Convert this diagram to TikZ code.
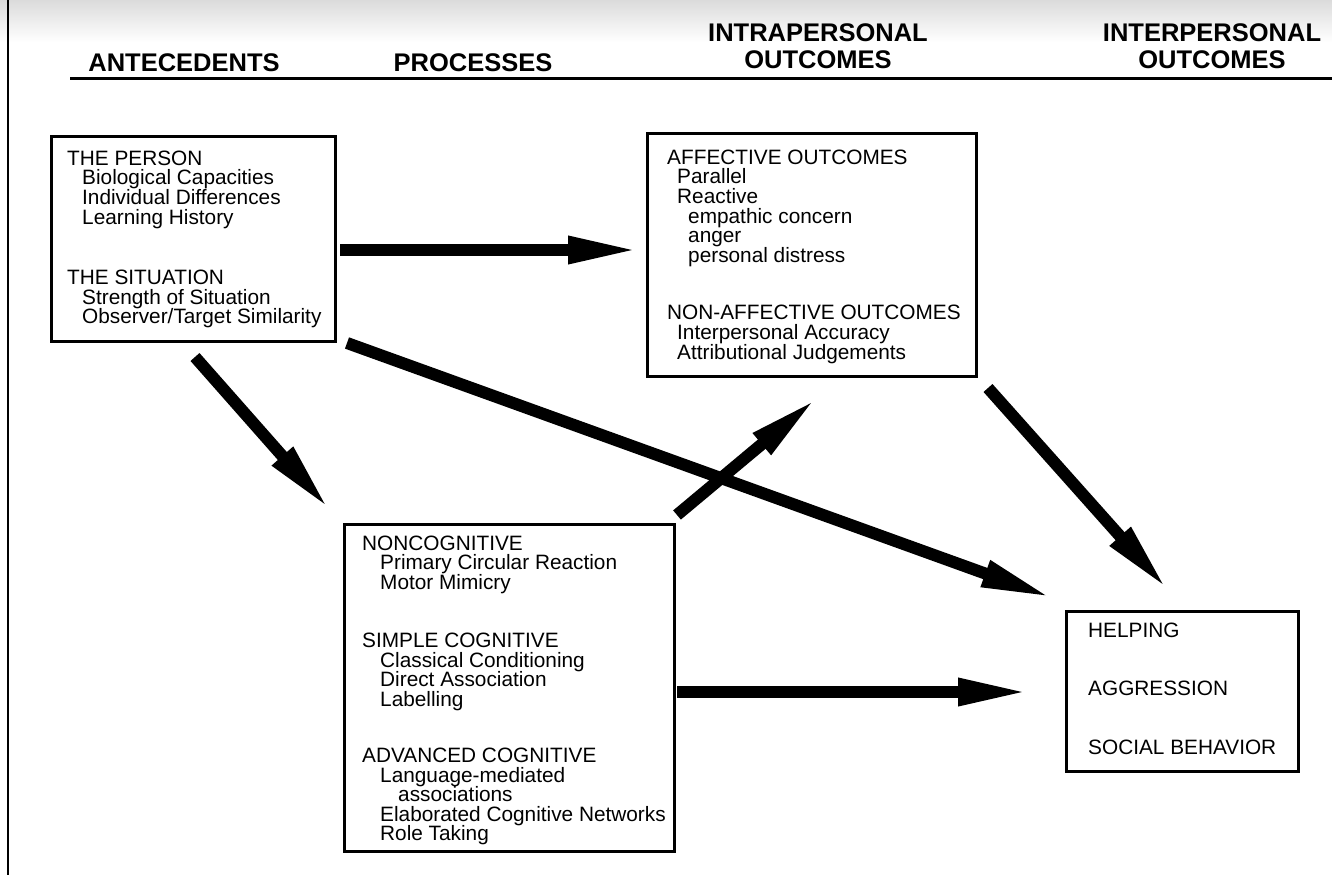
\documentclass[tikz,border=0pt]{standalone}
\usepackage{fontspec}
\setmainfont{Liberation Sans}
\usetikzlibrary{arrows.meta}
\newcommand\bodyfnt{\fontsize{20.8}{19.6}\selectfont}
\newcommand\headfnt{\fontsize{25.5}{27}\selectfont\bfseries}
\begin{document}
\begin{tikzpicture}[x=1pt,y=-1pt,
  boxnode/.style={draw, line width=3pt, inner sep=0pt, anchor=north west},
  txt/.style={anchor=north west, inner sep=0pt, align=left, font=\bodyfnt},
  head/.style={anchor=center, inner sep=0pt, align=center, font=\headfnt},
  bigarrow/.style={line width=12pt, -{Triangle[length=72pt,width=25pt]}}]
\useasboundingbox (0,0) rectangle (1332,875);
\fill[white] (0,0) rectangle (1332,875);
\shade[top color=gray!28, bottom color=white] (0,0) rectangle (1332,42);
% page border and header rule
\draw[line width=2pt] (8,0) -- (8,875);
\draw[line width=3pt] (70,78) -- (1332,78);
% headers
\node[head] (hant) at (184,63) {ANTECEDENTS};
\node[head] (hproc) at (473,63) {PROCESSES};
\node[head] (hintra) at (818,46.5) {INTRAPERSONAL\\OUTCOMES};
\node[head] (hinter) at (1212,46.5) {INTERPERSONAL\\OUTCOMES};
% boxes
\node[boxnode, minimum width=284pt, minimum height=205pt] (person) at (50,135) {};
\node[boxnode, minimum width=329pt, minimum height=243pt] (affect) at (646,132) {};
\node[boxnode, minimum width=330pt, minimum height=327pt] (process) at (343,523) {};
\node[boxnode, minimum width=232pt, minimum height=160pt] (behav) at (1065,610) {};
% box texts
\node[txt] (persontxt) at (67,150.5) {THE PERSON\\
\hspace*{15pt}Biological Capacities\\
\hspace*{15pt}Individual Differences\\
\hspace*{15pt}Learning History\\[41pt]
THE SITUATION\\
\hspace*{15pt}Strength of Situation\\
\hspace*{15pt}Observer/Target Similarity};
\node[txt] (affecttxt) at (667,149.5) {AFFECTIVE OUTCOMES\\
\hspace*{10pt}Parallel\\
\hspace*{10pt}Reactive\\
\hspace*{21pt}empathic concern\\
\hspace*{21pt}anger\\
\hspace*{21pt}personal distress\\[38pt]
NON-AFFECTIVE OUTCOMES\\
\hspace*{10pt}Interpersonal Accuracy\\
\hspace*{10pt}Attributional Judgements};
\node[txt] (processtxt) at (362,535.5) {NONCOGNITIVE\\
\hspace*{18pt}Primary Circular Reaction\\
\hspace*{18pt}Motor Mimicry\\[38.5pt]
SIMPLE COGNITIVE\\
\hspace*{18pt}Classical Conditioning\\
\hspace*{18pt}Direct Association\\
\hspace*{18pt}Labelling\\[36.5pt]
ADVANCED COGNITIVE\\
\hspace*{18pt}Language-mediated\\
\hspace*{36pt}associations\\
\hspace*{18pt}Elaborated Cognitive Networks\\
\hspace*{18pt}Role Taking};
\node[txt] (behavtxt) at (1088,622.5) {HELPING\\[38.9pt]
AGGRESSION\\[38.9pt]
SOCIAL BEHAVIOR};
% arrow end points
\coordinate (a1s) at (340,250);  \coordinate (a1e) at (640,250);
\coordinate (a2s) at (195,357);  \coordinate (a2e) at (330,510);
\coordinate (a3s) at (347,343);  \coordinate (a3e) at (1053,598);
\coordinate (a4s) at (677,515);  \coordinate (a4e) at (817,398);
\coordinate (a5s) at (988,388);  \coordinate (a5e) at (1168,590);
\coordinate (a6s) at (677,692);  \coordinate (a6e) at (1030,692);
\draw[bigarrow] (a1s) -- (a1e);
\draw[bigarrow] (a2s) -- (a2e);
\draw[bigarrow] (a3s) -- (a3e);
\draw[bigarrow] (a4s) -- (a4e);
\draw[bigarrow] (a5s) -- (a5e);
\draw[bigarrow] (a6s) -- (a6e);
\end{tikzpicture}
\end{document}
